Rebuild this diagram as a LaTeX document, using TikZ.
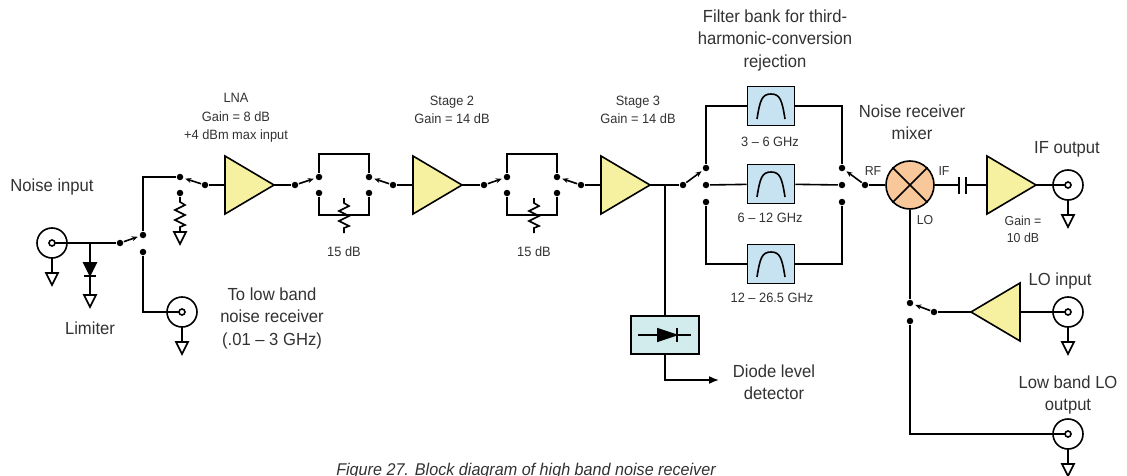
\documentclass[tikz,border=0pt]{standalone}
\usepackage{fontspec}
\setmainfont{Liberation Sans}[FakeStretch=0.95]
\usetikzlibrary{positioning,shapes,arrows.meta}
\definecolor{ampyellow}{RGB}{246,241,160}
\definecolor{filtblue}{RGB}{199,227,242}
\definecolor{detblue}{RGB}{210,236,238}
\definecolor{mixpeach}{RGB}{248,200,155}
\definecolor{txtgray}{RGB}{50,50,50}
\newcommand\bigtxt{\fontsize{17.5}{22.5}\selectfont}
\newcommand\smalltxt{\fontsize{13.5}{18.5}\selectfont}
\newcommand\tinytxt{\fontsize{13}{17}\selectfont}

\begin{document}
\begin{tikzpicture}[%
    x=1pt, y=-1pt,
    line width=1.6pt,
    dot/.style={circle,fill,inner sep=0pt,minimum size=6.5pt},
    arm/.style={-{Stealth[length=6pt,width=5pt]},shorten >=1.5pt},
    big/.style={text=txtgray,font=\bigtxt,align=center},
    small/.style={text=txtgray,font=\smalltxt,align=center},
    filt/.style={draw,fill=filtblue,minimum width=47pt,minimum height=39pt,inner sep=0pt,
      path picture={\draw[line width=1.6pt,shift={(path picture bounding box.center)}]
        (-14,13) .. controls (-11,-6) and (-9,-12) .. (0,-12)
        .. controls (9,-12) and (11,-6) .. (14,13);}},
    amp/.pic={\draw[fill=ampyellow] (0,-29) -- (49,0) -- (0,29) -- cycle;
      \coordinate (-in) at (0,0); \coordinate (-out) at (49,0);},
    bnc/.pic={\draw (0,0) circle (15); \draw (0,0) circle (3);
      \draw (0,15) -- (0,30); \draw (-6,30) -- (6,30) -- (0,42) -- cycle;
      \coordinate (-l) at (-3,0); \coordinate (-r) at (3,0);},
    gnd/.pic={\draw (-6,0) -- (6,0) -- (0,12) -- cycle;},
    res/.pic={\draw (0,0) -- (0,5) -- (5,8) -- (-5,13) -- (5,18) -- (-5,23)
      -- (5,28) -- (0,30) -- (0,35);}
  ]
  \useasboundingbox (0,0) rectangle (1127,476);

  % input and limiter
  \pic (nin) at (52,243) {bnc};
  \node[big] at (52,187) {Noise input};
  \coordinate (lim) at (90,243);
  \draw (lim) -- (90,295);
  \draw[fill] (84,263) -- (96,263) -- (90,275) -- cycle;
  \draw (84,276) -- (96,276);
  \pic at (90,295) {gnd};
  \node[big] at (90,328) {Limiter};

  \node[dot] (s1p) at (120,243) {};
  \node[dot] (s1a) at (143,235) {};
  \node[dot] (s1b) at (143,252) {};
  \draw (nin-r) -- (s1p);
  \draw[arm] (s1p) -- (s1a);
  \pic (nlb) at (182,312) {bnc};
  \draw (s1b) |- (nlb-l);
  \node[big] at (272,318) {To low band\\noise receiver\\(.01 – 3 GHz)};

  % LNA
  \node[dot] (s2a) at (180,177) {};
  \node[dot] (s2b) at (180,193) {};
  \node[dot] (s2p) at (205,185) {};
  \draw (s1a) |- (s2a);
  \draw[arm] (s2p) -- (s2a);
  \draw (s2b) -- (180,197);
  \pic at (180,197) {res};
  \pic at (180,232) {gnd};
  \pic (lna) at (225,185) {amp};
  \draw (s2p) -- (lna-in);
  \node[small] at (236,118) {LNA\\Gain = 8 dB\\+4 dBm max input};

  % attenuator 1
  \node[dot] (s3p) at (295,185) {};
  \node[dot] (s3a) at (319,177) {};
  \node[dot] (s3b) at (319,193) {};
  \node[dot] (s4a) at (369,177) {};
  \node[dot] (s4b) at (369,193) {};
  \node[dot] (s4p) at (393,185) {};
  \draw (lna-out) -- (s3p);
  \draw[arm] (s3p) -- (s3a);
  \draw[arm] (s4p) -- (s4a);
  \draw (s3a) -- ++(0,-23) -| (s4a);
  \draw (s3b) -- ++(0,22) -| (s4b);
  \pic at (344,198) {res};
  \node[small] at (344,252) {15 dB};

  % stage 2
  \pic (st2) at (413,185) {amp};
  \draw (s4p) -- (st2-in);
  \node[small] at (452,110) {Stage 2\\Gain = 14 dB};

  % attenuator 2
  \node[dot] (s5p) at (484,185) {};
  \node[dot] (s5a) at (507,177) {};
  \node[dot] (s5b) at (507,193) {};
  \node[dot] (s6a) at (557,177) {};
  \node[dot] (s6b) at (557,193) {};
  \node[dot] (s6p) at (581,185) {};
  \draw (st2-out) -- (s5p);
  \draw[arm] (s5p) -- (s5a);
  \draw[arm] (s6p) -- (s6a);
  \draw (s5a) -- ++(0,-23) -| (s6a);
  \draw (s5b) -- ++(0,22) -| (s6b);
  \pic at (534,198) {res};
  \node[small] at (534,252) {15 dB};

  % stage 3 and detector
  \pic (st3) at (601,185) {amp};
  \draw (s6p) -- (st3-in);
  \node[small] at (638,110) {Stage 3\\Gain = 14 dB};
  \coordinate (j) at (665,185);
  \node[draw,fill=detblue,minimum width=68pt,minimum height=38pt] (det) at (665,335) {};
  \draw (j) -- (det);
  \draw (638,335) -- (691,335);
  \draw[fill] (658,329) -- (676,335) -- (658,341) -- cycle;
  \draw (677,328) -- (677,342);
  \coordinate (dout) at (719,380);
  \draw[-{Latex[length=10pt,width=8pt]}] (det) |- (dout);
  \node[big] at (774,382) {Diode level\\detector};

  % filter bank
  \node[dot] (s7p) at (683,185) {};
  \node[dot] (s7a) at (706,168) {};
  \node[dot] (s7b) at (706,185) {};
  \node[dot] (s7c) at (706,202) {};
  \node[dot] (s8a) at (842,168) {};
  \node[dot] (s8b) at (842,185) {};
  \node[dot] (s8c) at (842,202) {};
  \node[dot] (s8p) at (865,185) {};
  \draw (st3-out) -- (s7p);
  \draw[arm] (s7p) -- (s7a);
  \draw[arm] (s8p) -- (s8a);
  \node[filt] (f1) at (771,106) {};
  \node[filt] (f2) at (771,184) {};
  \node[filt] (f3) at (771,264) {};
  \draw (s7a) |- (f1) -| (s8a);
  \draw (s7b) -- (f2) -- (s8b);
  \draw (s7c) |- (f3) -| (s8c);
  \node[small] at (770,142) {3 – 6 GHz};
  \node[small] at (770,218) {6 – 12 GHz};
  \node[small] at (772,298) {12 – 26.5 GHz};
  \node[big] at (775,40) {Filter bank for third-\\harmonic-conversion\\rejection};

  % mixer and IF
  \node[circle,draw,fill=mixpeach,minimum size=48pt,inner sep=0pt] (mix) at (910,185) {};
  \draw (mix.north west) -- (mix.south east) (mix.north east) -- (mix.south west);
  \draw (s8p) -- (mix);
  \node[big] at (912,122) {Noise receiver\\mixer};
  \node[small,font=\tinytxt] at (873,171) {RF};
  \node[small,font=\tinytxt] at (944,171) {IF};
  \node[small,font=\tinytxt] at (925,220) {LO};
  \coordinate (c1) at (959,185);
  \coordinate (c2) at (966,185);
  \draw (mix) -- (c1);
  \draw (959,177) -- (959,194) (966,177) -- (966,194);
  \pic (ifa) at (987,185) {amp};
  \draw (c2) -- (ifa-in);
  \pic (nif) at (1068,185) {bnc};
  \draw (ifa-out) -- (nif-l);
  \node[big] at (1067,149) {IF output};
  \node[small,font=\tinytxt] at (1023,229) {Gain =\\10 dB};

  % LO path
  \node[dot] (s9a) at (910,303) {};
  \node[dot] (s9b) at (910,321) {};
  \node[dot] (s9p) at (934,312) {};
  \draw (mix) -- (s9a);
  \draw[arm] (s9p) -- (s9a);
  \pic[xscale=-1] (loa) at (1020,312) {amp};
  \pic (nlo) at (1068,312) {bnc};
  \draw (s9p) -- (loa-out);
  \draw (loa-in) -- (nlo-l);
  \node[big] at (1060,281) {LO input};
  \pic (nlb2) at (1068,434) {bnc};
  \draw (s9b) |- (nlb2-l);
  \node[big] at (1068,395) {Low band LO\\output};

  \node[text=txtgray,font=\fontsize{17}{20}\selectfont\itshape,anchor=base] at (526,475)
    {Figure 27. Block diagram of high band noise receiver};
\end{tikzpicture}
\end{document}
